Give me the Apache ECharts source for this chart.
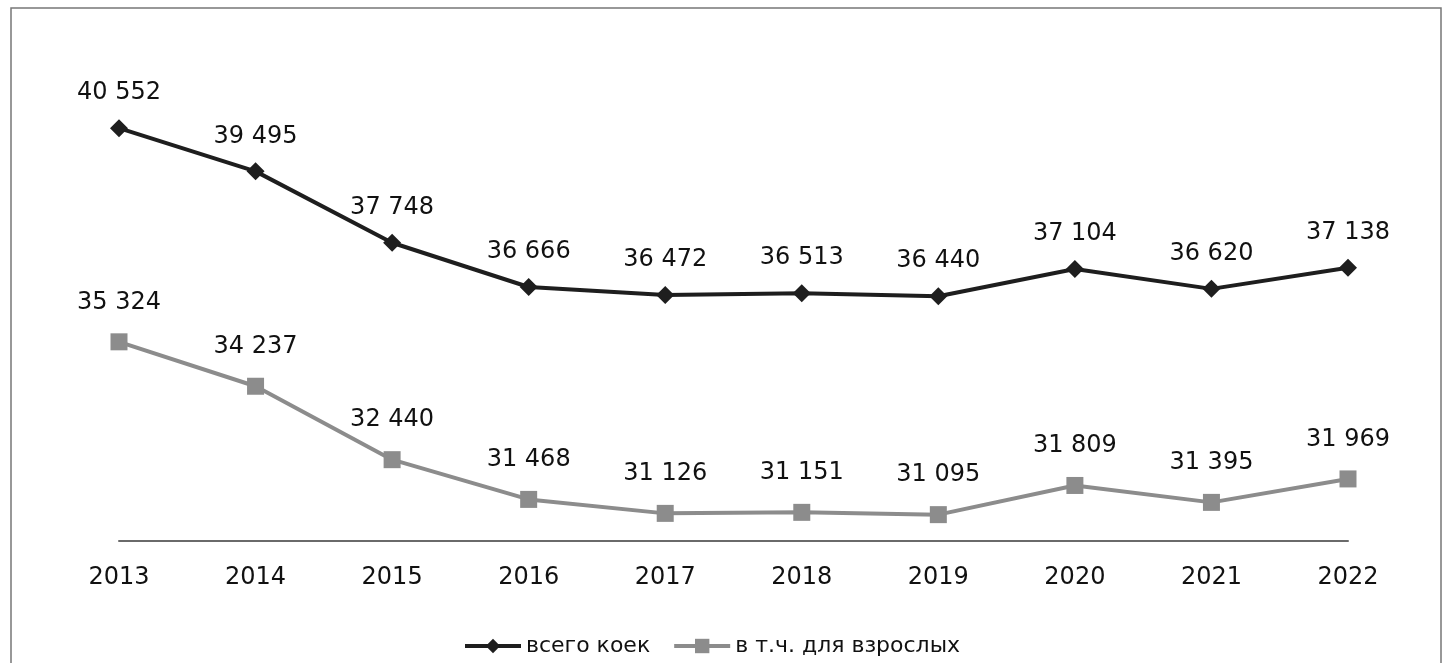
<!DOCTYPE html>
<html><head><meta charset="utf-8">
<script src="https://cdn.jsdelivr.net/npm/echarts@6/dist/echarts.min.js"></script>
<style>html,body{margin:0;padding:0;background:#fff}#c{width:1449px;height:663px}</style>
</head><body><div id="c"></div>
<script>
const years = ['2013','2014','2015','2016','2017','2018','2019','2020','2021','2022'];
const totalBeds = [40552,39495,37748,36666,36472,36513,36440,37104,36620,37138];
const adultBeds = [35324,34237,32440,31468,31126,31151,31095,31809,31395,31969];
const seriesNames = ['всего коек','в т.ч. для взрослых'];

const fmt = p => String(p.value).replace(/\B(?=(\d{3})+(?!\d))/g, ' ');
const font = '"DejaVu Sans", sans-serif';
const chart = echarts.init(document.getElementById('c'));
chart.setOption({
  animation:false,
  backgroundColor:'#fff',
  graphic:[{type:'rect',shape:{x:11,y:8,width:1430,height:670},style:{fill:'none',stroke:'#777',lineWidth:1.5},silent:true}],
  grid:{left:119,right:101,top:69,bottom:122},
  legend:{left:458,top:630,itemWidth:56,itemHeight:18,itemGap:22,
    lineStyle:{width:4},
    textStyle:{fontFamily:font,fontSize:22,color:'#111'},
    data:seriesNames},
  xAxis:{type:'category',data:years,boundaryGap:false,
    axisLine:{lineStyle:{color:'#6a6a6a',width:2}},axisTick:{show:false},
    axisLabel:{fontFamily:font,fontSize:24,color:'#111',margin:25}},
  yAxis:{type:'value',min:30450,max:42000,show:false,splitLine:{show:false}},
  series:[
    {name:seriesNames[0],type:'line',data:totalBeds,symbol:'diamond',symbolSize:18,
      lineStyle:{color:'#1e1e1e',width:4},itemStyle:{color:'#1e1e1e'},
      label:{show:true,position:'top',distance:14,formatter:fmt,fontFamily:font,fontSize:24,color:'#111'}},
    {name:seriesNames[1],type:'line',data:adultBeds,symbol:'rect',symbolSize:17,
      lineStyle:{color:'#8c8c8c',width:4},itemStyle:{color:'#8c8c8c'},
      label:{show:true,position:'top',distance:19,formatter:fmt,fontFamily:font,fontSize:24,color:'#111'}}
  ]
});
</script></body></html>
